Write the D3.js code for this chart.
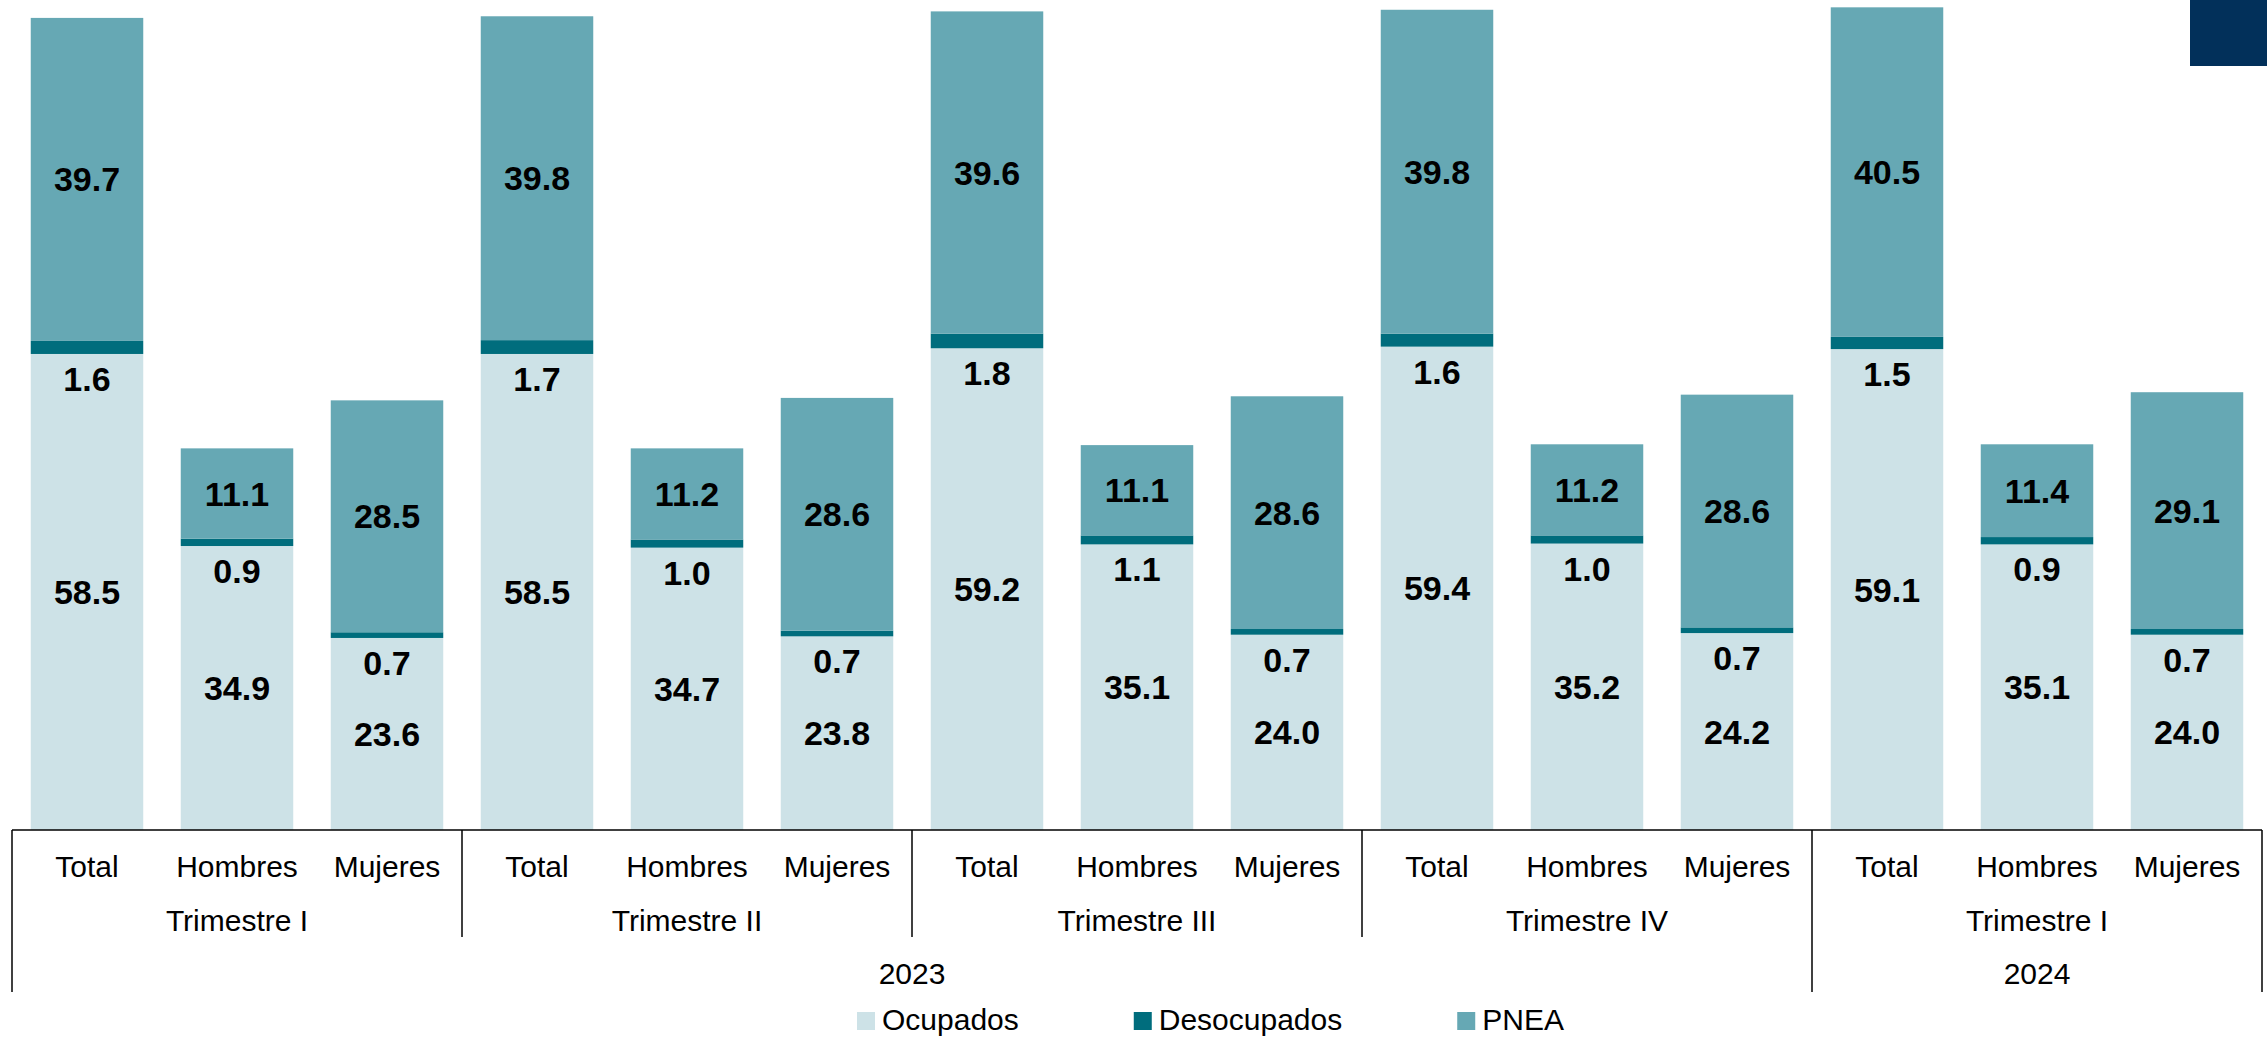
<!DOCTYPE html>
<html><head><meta charset="utf-8">
<script src="https://cdn.jsdelivr.net/npm/d3@7"></script>
<style>body{margin:0;background:#fff;}svg{display:block;font-family:"Liberation Sans",Arial,sans-serif;}</style>
</head><body>
<svg id="c" width="2267" height="1037"></svg>
<script>
const categories = ["Total","Hombres","Mujeres","Total","Hombres","Mujeres","Total","Hombres","Mujeres","Total","Hombres","Mujeres","Total","Hombres","Mujeres"];
const quarters = ["Trimestre I","Trimestre II","Trimestre III","Trimestre IV","Trimestre I"];
const years = ["2023","2024"];
const yearQuarterCount = [4,1];
const seriesNames = ["Ocupados","Desocupados","PNEA"];
const ocupados    = [58.5,34.9,23.6, 58.5,34.7,23.8, 59.2,35.1,24.0, 59.4,35.2,24.2, 59.1,35.1,24.0];
const desocupados = [1.6,0.9,0.7, 1.7,1.0,0.7, 1.8,1.1,0.7, 1.6,1.0,0.7, 1.5,0.9,0.7];
const pnea        = [39.7,11.1,28.5, 39.8,11.2,28.6, 39.6,11.1,28.6, 39.8,11.2,28.6, 40.5,11.4,29.1];
const colors = ["#CDE2E7","#006D7D","#66A8B4"];

const svg = d3.select("#c");
const left = 12, right = 2262, base = 830;
const rows = categories.map((c,i)=>({i, Ocupados:ocupados[i], Desocupados:desocupados[i], PNEA:pnea[i]}));
const x = d3.scaleBand().domain(d3.range(categories.length)).range([left,right]).paddingInner(0.25).paddingOuter(0.125);
const y = d3.scaleLinear().domain([0,102]).range([base,0]);
const stacked = d3.stack().keys(seriesNames)(rows);

// top-right dark box
svg.append("rect").attr("x",2190).attr("y",0).attr("width",77).attr("height",66).attr("fill","#02305A");

const g = svg.append("g");
stacked.forEach((s,si)=>{
  g.selectAll(null).data(s).enter().append("rect")
    .attr("x",d=>x(d.data.i)).attr("width",x.bandwidth())
    .attr("y",d=>y(d[1])).attr("height",d=>y(d[0])-y(d[1]))
    .attr("fill",colors[si]);
});
// labels
stacked.forEach((s,si)=>{
  g.selectAll(null).data(s).enter().append("text")
    .attr("x",d=>x(d.data.i)+x.bandwidth()/2)
    .attr("y",d=> si===1 ? y(d[0])+25 : (y(d[0])+y(d[1]))/2)
    .attr("text-anchor","middle").attr("dominant-baseline","central")
    .attr("font-size",34).attr("font-weight","bold").attr("fill","#000")
    .text(d=>d3.format(".1f")(d[1]-d[0]));
});

// axis
const ax = svg.append("g").attr("stroke","#000").attr("stroke-width",1.5);
ax.append("line").attr("x1",left).attr("x2",right).attr("y1",base).attr("y2",base);
const step = x.step();
// quarter dividers
quarters.forEach((q,qi)=>{
  if(qi===0) return;
  const xx = left + qi*3*step;
  const isYear = qi===yearQuarterCount[0];
  ax.append("line").attr("x1",xx).attr("x2",xx).attr("y1",base).attr("y2",isYear?992:937);
});
ax.append("line").attr("x1",left).attr("x2",left).attr("y1",base).attr("y2",992);
ax.append("line").attr("x1",right).attr("x2",right).attr("y1",base).attr("y2",992);

const tg = svg.append("g").attr("font-size",30).attr("fill","#000").attr("text-anchor","middle");
categories.forEach((c,i)=>{
  tg.append("text").attr("x",x(i)+x.bandwidth()/2).attr("y",877).text(c);
});
quarters.forEach((q,qi)=>{
  tg.append("text").attr("x",left+(qi*3+1.5)*step).attr("y",931).text(q);
});
let qStart=0;
years.forEach((yr,yi)=>{
  const n = yearQuarterCount[yi];
  tg.append("text").attr("x",left+(qStart+n/2)*3*step).attr("y",984).text(yr);
  qStart+=n;
});

// legend
const lg = svg.append("g");
let lx = 857;
seriesNames.forEach((nm,i)=>{
  lg.append("rect").attr("x",lx).attr("y",1012).attr("width",18).attr("height",18).attr("fill",colors[i]);
  const t = lg.append("text").attr("x",lx+25).attr("y",1030).attr("font-size",30).attr("fill","#000").text(nm);
  lx = lx + 25 + t.node().getComputedTextLength() + 115;
});
</script>
</body></html>
